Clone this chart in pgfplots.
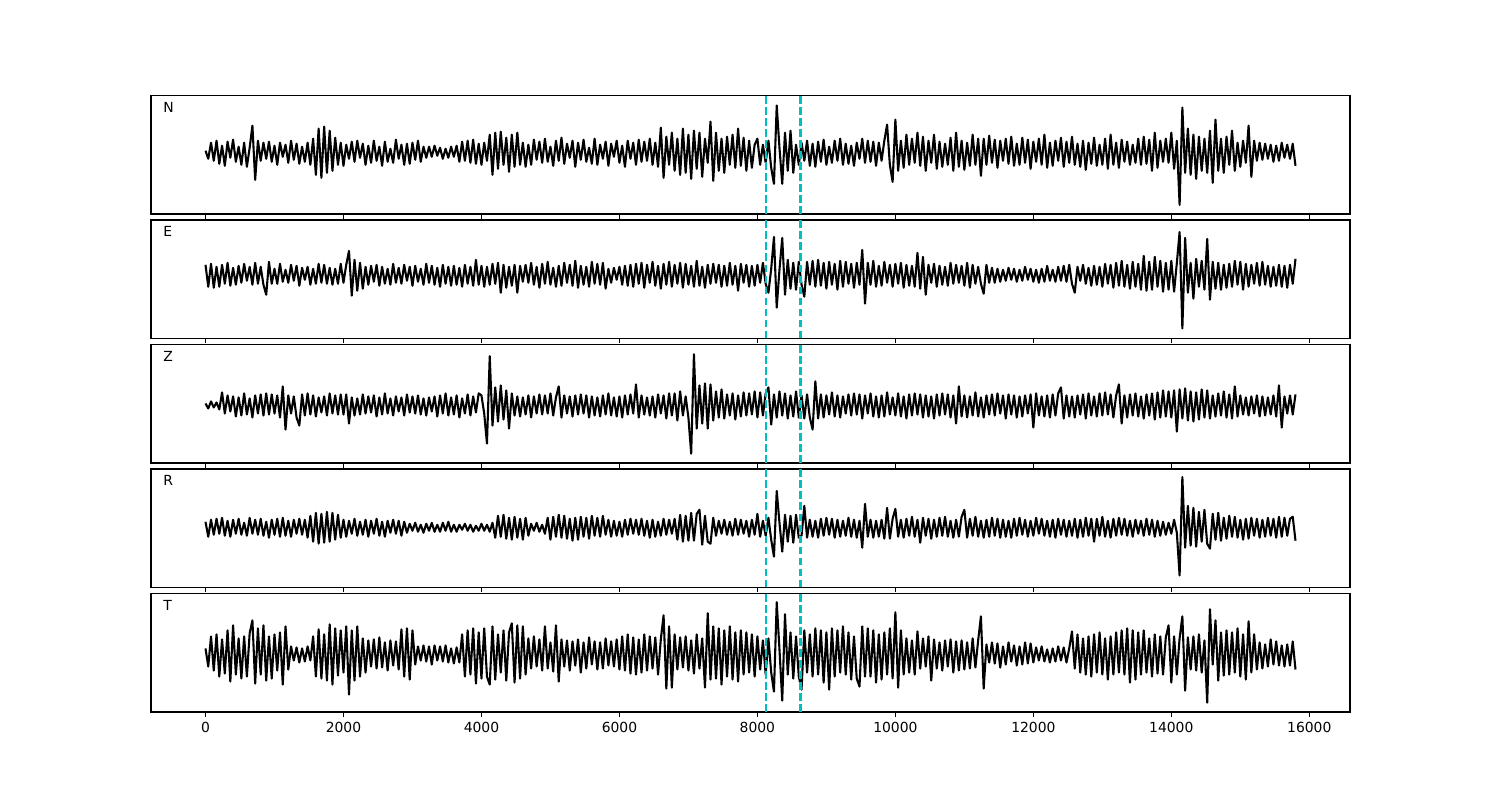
\documentclass[border=0pt]{standalone}
\usepackage{fontspec}
\setmainfont{DejaVu Sans}
\usepackage{pgfplots}
\usepackage{pgfplotstable}
\pgfplotsset{compat=1.18}
\definecolor{mplc}{rgb}{0,0.75,0.75}

% one sample every 40 time units, offsets from the trace baseline
\pgfplotstableread[row sep=\\, header=false]{
2\\ -6\\ 10\\ -8\\ 12\\ -11\\ 7\\ -13\\ 11\\ -5\\
13\\ -9\\ 6\\ -12\\ 10\\ -14\\ 5\\ 27\\ -27\\ 12\\
-8\\ 10\\ -6\\ 11\\ -9\\ 7\\ -12\\ 10\\ -4\\ 8\\
-10\\ 12\\ -7\\ 9\\ -11\\ 6\\ -9\\ 10\\ -12\\ 14\\
-22\\ 24\\ -25\\ 26\\ -20\\ 22\\ -18\\ 15\\ -12\\ 10\\
-13\\ 8\\ -6\\ 11\\ -9\\ 12\\ -5\\ 9\\ -12\\ 7\\
-10\\ 12\\ -8\\ 6\\ -13\\ 11\\ -9\\ 4\\ -10\\ 13\\
-6\\ 8\\ -12\\ 9\\ -11\\ 10\\ -7\\ 12\\ -9\\ 6\\
-5\\ 6\\ -4\\ 7\\ -3\\ 5\\ -6\\ 4\\ -5\\ 6\\
-4\\ 7\\ -9\\ 11\\ -8\\ 12\\ -10\\ 13\\ -11\\ 9\\
-12\\ 10\\ -8\\ 18\\ -22\\ 20\\ -16\\ 21\\ -12\\ 15\\
-19\\ 18\\ -14\\ 20\\ -12\\ 10\\ -14\\ 8\\ -12\\ 13\\
-7\\ 11\\ -10\\ 14\\ -9\\ 6\\ -13\\ 12\\ -8\\ 15\\
-11\\ 9\\ -5\\ 12\\ -14\\ 10\\ -7\\ 13\\ -9\\ 5\\
-11\\ 14\\ -12\\ 8\\ -6\\ 11\\ -13\\ 9\\ -4\\ 12\\
-10\\ 7\\ -14\\ 12\\ -6\\ 10\\ -12\\ 13\\ -9\\ 11\\
-8\\ 14\\ -12\\ 10\\ -14\\ 25\\ -25\\ 16\\ -12\\ 20\\
-18\\ 14\\ -22\\ 24\\ -20\\ 18\\ -26\\ 22\\ -16\\ 20\\
-24\\ 14\\ -10\\ 31\\ -28\\ 20\\ -18\\ 14\\ -20\\ 16\\
-12\\ 18\\ -15\\ 24\\ -13\\ 15\\ -18\\ 12\\ -15\\ 8\\
14\\ -12\\ 8\\ -10\\ 12\\ -15\\ -31\\ 47\\ 5\\ -31\\
20\\ -18\\ 22\\ -20\\ 8\\ -12\\ 10\\ -8\\ 12\\ -13\\
9\\ -14\\ 11\\ -9\\ 13\\ -12\\ 6\\ -10\\ 12\\ -8\\
14\\ -12\\ 9\\ -11\\ 7\\ -13\\ 10\\ -6\\ 14\\ -10\\
12\\ -9\\ 11\\ -13\\ 10\\ -8\\ 12\\ 28\\ -12\\ -29\\
33\\ -18\\ 12\\ -15\\ 18\\ -12\\ 14\\ -10\\ 20\\ -13\\
16\\ -18\\ 12\\ -10\\ 18\\ -16\\ 11\\ -14\\ 9\\ -12\\
15\\ -18\\ 20\\ -14\\ 12\\ -17\\ 10\\ -13\\ 18\\ -12\\
14\\ -23\\ 14\\ -12\\ 17\\ -10\\ 13\\ -15\\ 12\\ -8\\
14\\ -11\\ 16\\ -13\\ 9\\ -12\\ 15\\ -10\\ 13\\ -16\\
11\\ -9\\ 14\\ -12\\ 18\\ -15\\ 10\\ -13\\ 12\\ -8\\
15\\ -14\\ 11\\ -10\\ 16\\ -12\\ 9\\ -14\\ 12\\ -17\\
10\\ -11\\ 15\\ -13\\ 8\\ -12\\ 14\\ -16\\ 18\\ -12\\
10\\ -15\\ 13\\ -9\\ 11\\ -12\\ 8\\ -10\\ 14\\ -12\\
16\\ -11\\ 13\\ -18\\ 20\\ -15\\ 12\\ -9\\ 14\\ -10\\
20\\ -16\\ 12\\ -52\\ 45\\ -20\\ 24\\ -22\\ 18\\ -26\\
16\\ -18\\ 14\\ -20\\ 22\\ -30\\ 33\\ -18\\ 14\\ -20\\
16\\ -12\\ 22\\ -18\\ 10\\ -14\\ 12\\ -10\\ 27\\ -24\\
12\\ -8\\ 10\\ -7\\ 9\\ -6\\ 8\\ -9\\ 7\\ -8\\
10\\ -5\\ 8\\ -6\\ 9\\ -13\\
}\dataN

\pgfplotstableread[row sep=\\, header=false]{
10\\ -12\\ 11\\ -13\\ 8\\ -12\\ 10\\ -9\\ 12\\ -11\\
7\\ -10\\ 9\\ -8\\ 11\\ -6\\ 8\\ -10\\ 12\\ -9\\
8\\ -10\\ -20\\ 13\\ -9\\ 6\\ -9\\ 11\\ -7\\ 5\\
-8\\ 10\\ -6\\ 9\\ -11\\ 7\\ -5\\ 8\\ -10\\ 6\\
-9\\ 11\\ -8\\ 10\\ -9\\ 7\\ -10\\ 6\\ -9\\ 11\\
-8\\ 10\\ 24\\ -21\\ 15\\ -16\\ 12\\ -14\\ 8\\ -10\\
9\\ -7\\ 10\\ -11\\ 8\\ -9\\ 6\\ -10\\ 11\\ -8\\
7\\ -9\\ 10\\ -6\\ 8\\ -11\\ 9\\ -7\\ 6\\ -10\\
11\\ -8\\ 9\\ -10\\ 7\\ -12\\ 10\\ -9\\ 8\\ -11\\
9\\ -10\\ 7\\ -12\\ 10\\ -9\\ 8\\ -11\\ 15\\ -10\\
9\\ -12\\ 8\\ -10\\ 11\\ -9\\ 12\\ -18\\ 10\\ -13\\
8\\ -11\\ 10\\ -18\\ 9\\ -7\\ 10\\ -8\\ 12\\ -10\\
8\\ -13\\ 11\\ -9\\ 13\\ -10\\ 7\\ -12\\ 9\\ -11\\
12\\ -8\\ 10\\ -11\\ 14\\ -13\\ 9\\ -10\\ 8\\ -12\\
13\\ -9\\ 11\\ -10\\ 12\\ -14\\ 6\\ -8\\ 7\\ -5\\
8\\ -10\\ 9\\ -11\\ 10\\ -12\\ 11\\ -9\\ 12\\ -13\\
10\\ -8\\ 13\\ -11\\ 9\\ -14\\ 11\\ -10\\ 13\\ -12\\
10\\ -9\\ 12\\ -13\\ 11\\ -10\\ 9\\ -12\\ 14\\ -11\\
8\\ -13\\ 10\\ -9\\ 11\\ -8\\ 10\\ -12\\ 9\\ -11\\
12\\ -10\\ 9\\ -16\\ 11\\ -8\\ 10\\ -12\\ 9\\ -11\\
10\\ -8\\ 12\\ -9\\ -18\\ 6\\ 38\\ -33\\ 5\\ 37\\
-20\\ 15\\ -14\\ 12\\ -15\\ 13\\ -10\\ -22\\ 13\\ -10\\
14\\ -12\\ 15\\ -11\\ 12\\ -14\\ 13\\ -10\\ 11\\ -15\\
14\\ -12\\ 13\\ -9\\ 11\\ -13\\ 12\\ -10\\ 25\\ -29\\
12\\ -10\\ 14\\ -12\\ 9\\ -11\\ 13\\ -8\\ 10\\ -12\\
11\\ -9\\ 12\\ -13\\ 10\\ -11\\ 9\\ -12\\ 22\\ -14\\
18\\ -20\\ 10\\ -8\\ 11\\ -12\\ 9\\ -10\\ 8\\ -11\\
12\\ -9\\ 10\\ -8\\ 9\\ -11\\ 12\\ -13\\ 10\\ -9\\
8\\ -9\\ -19\\ 10\\ -8\\ 7\\ -8\\ 6\\ -7\\ 5\\
-6\\ 7\\ -5\\ 6\\ -7\\ 5\\ -6\\ 8\\ -5\\ 6\\
-7\\ 5\\ -8\\ 6\\ -7\\ 9\\ -6\\ 5\\ -7\\ 8\\
-6\\ 9\\ -7\\ 10\\ -9\\ -18\\ 8\\ -6\\ 10\\ -9\\
7\\ -11\\ 9\\ -10\\ 8\\ -12\\ 11\\ -9\\ 10\\ -13\\
12\\ -11\\ 14\\ -12\\ 10\\ -14\\ 13\\ -12\\ 11\\ -15\\
19\\ -16\\ 13\\ -15\\ 18\\ -12\\ 14\\ -17\\ 12\\ -15\\
14\\ -17\\ 12\\ 43\\ -54\\ 37\\ -18\\ 12\\ -24\\ 16\\
-12\\ 14\\ -15\\ 36\\ -25\\ 13\\ -14\\ 12\\ -15\\ 10\\
-13\\ 11\\ -12\\ 14\\ -10\\ 13\\ -15\\ 11\\ -12\\ 10\\
-9\\ 12\\ -11\\ 13\\ -10\\ 9\\ -12\\ 8\\ -11\\ 10\\
-12\\ 9\\ -13\\ 10\\ -9\\ 16\\
}\dataE

\pgfplotstableread[row sep=\\, header=false]{
2\\ -3\\ 4\\ -2\\ 3\\ -4\\ 13\\ -8\\ 10\\ -6\\
9\\ -11\\ 8\\ -10\\ 12\\ -9\\ 7\\ -12\\ 10\\ -8\\
11\\ -10\\ 12\\ -9\\ 11\\ -8\\ 10\\ -12\\ 19\\ -24\\
10\\ -8\\ 9\\ -12\\ -20\\ 11\\ -10\\ 12\\ -9\\ 10\\
-11\\ 8\\ -7\\ 9\\ -10\\ 12\\ -8\\ 10\\ -9\\ 11\\
-9\\ 11\\ -18\\ 8\\ -10\\ 7\\ -9\\ 11\\ -8\\ 9\\
-7\\ 10\\ -11\\ 8\\ -9\\ 12\\ -8\\ 7\\ -10\\ 9\\
-6\\ 8\\ -10\\ 11\\ -7\\ 9\\ -8\\ 10\\ -9\\ 7\\
-10\\ 8\\ -6\\ 9\\ -11\\ 10\\ -8\\ 12\\ -10\\ 8\\
-9\\ 10\\ -12\\ 7\\ -8\\ 11\\ -10\\ 9\\ -7\\ 12\\
10\\ -8\\ -38\\ 49\\ -20\\ 18\\ -16\\ 20\\ -14\\ 15\\
-23\\ 12\\ -10\\ 9\\ -11\\ 8\\ -9\\ 10\\ -12\\ 9\\
-8\\ 11\\ -9\\ 10\\ -8\\ 12\\ -10\\ 8\\ 19\\ -12\\
10\\ -8\\ 9\\ -11\\ 10\\ -9\\ 11\\ -8\\ 10\\ -12\\
9\\ -10\\ 8\\ -11\\ 10\\ -9\\ 12\\ -10\\ 8\\ -11\\
9\\ -12\\ 10\\ -9\\ 11\\ -8\\ 21\\ -12\\ 10\\ -9\\
8\\ -10\\ 9\\ -12\\ 11\\ -8\\ 10\\ -13\\ 12\\ -10\\
12\\ -15\\ 14\\ -10\\ 9\\ -12\\ -48\\ 51\\ -23\\ 20\\
-18\\ 22\\ -23\\ 21\\ -15\\ 14\\ -12\\ 16\\ -13\\ 11\\
-10\\ 12\\ -14\\ 10\\ -11\\ 13\\ -10\\ 12\\ -9\\ 14\\
-12\\ 13\\ -10\\ 12\\ 18\\ -19\\ 11\\ -12\\ 14\\ -10\\
12\\ -13\\ 10\\ -11\\ 14\\ -12\\ 10\\ -13\\ 11\\ -12\\
-24\\ 24\\ -13\\ 11\\ -12\\ 10\\ -9\\ 13\\ -11\\ 10\\
-12\\ 9\\ -8\\ 11\\ -10\\ 12\\ -9\\ 11\\ -13\\ 10\\
-8\\ 12\\ -11\\ 9\\ -12\\ 10\\ -11\\ 13\\ -9\\ 8\\
-10\\ 12\\ -11\\ 9\\ -13\\ 11\\ -10\\ 12\\ -9\\ 11\\
-12\\ 10\\ -11\\ 9\\ -13\\ 11\\ -10\\ 12\\ -9\\ 11\\
-12\\ 10\\ -18\\ 19\\ -11\\ 10\\ -12\\ 9\\ -10\\ 13\\
-11\\ 8\\ -12\\ 10\\ -9\\ 11\\ -10\\ 12\\ -8\\ 10\\
-13\\ 11\\ -9\\ 10\\ -12\\ 9\\ -11\\ 10\\ -8\\ 11\\
-22\\ 12\\ -10\\ 9\\ -11\\ 10\\ -12\\ 11\\ -10\\ 12\\
18\\ -13\\ 10\\ -11\\ 9\\ -12\\ 10\\ -9\\ 11\\ -13\\
12\\ -10\\ 9\\ -11\\ 12\\ -10\\ 13\\ -9\\ 11\\ -12\\
10\\ 21\\ -18\\ 10\\ -12\\ 11\\ -10\\ 12\\ -11\\ 9\\
-13\\ 11\\ -10\\ 12\\ -14\\ 13\\ -12\\ 15\\ -11\\ 14\\
-12\\ 15\\ -26\\ 16\\ -13\\ 17\\ -15\\ 14\\ -16\\ 13\\
-14\\ 16\\ -12\\ 15\\ -13\\ 10\\ -11\\ 12\\ -10\\ 14\\
-12\\ 11\\ -13\\ 19\\ -11\\ 10\\ -9\\ 8\\ -10\\ 9\\
-8\\ 10\\ -11\\ 9\\ -10\\ 8\\ -9\\ 10\\ -11\\ 20\\
-22\\ 9\\ -8\\ 10\\ -9\\ 11\\
}\dataZ

\pgfplotstableread[row sep=\\, header=false]{
6\\ -9\\ 8\\ -7\\ 9\\ -6\\ 10\\ -8\\ 7\\ -9\\
8\\ -6\\ 9\\ -7\\ 5\\ -8\\ 10\\ -6\\ 8\\ -7\\
9\\ -8\\ 6\\ -10\\ 8\\ -7\\ 9\\ -9\\ 10\\ -8\\
7\\ -9\\ 8\\ -6\\ 9\\ -7\\ 8\\ -10\\ 12\\ -14\\
15\\ -16\\ 14\\ -15\\ 16\\ -14\\ 15\\ -12\\ 13\\ -10\\
8\\ -9\\ 7\\ -6\\ 9\\ -8\\ 6\\ -7\\ 8\\ -9\\
7\\ -6\\ 9\\ -8\\ 6\\ -9\\ 7\\ -5\\ 8\\ -6\\
7\\ -8\\ 6\\ -5\\ 4\\ -3\\ 5\\ -4\\ 3\\ -5\\
4\\ -3\\ 5\\ -4\\ 3\\ -4\\ 5\\ -3\\ 6\\ -4\\
3\\ -4\\ 3\\ -2\\ 4\\ -3\\ 3\\ -4\\ 2\\ -3\\
4\\ -3\\ 3\\ -4\\ 5\\ -10\\ 12\\ -9\\ 13\\ -11\\
10\\ -12\\ 11\\ -10\\ 9\\ -12\\ 10\\ -8\\ 4\\ -3\\
5\\ -4\\ 3\\ -6\\ 10\\ -12\\ 11\\ -9\\ 13\\ -10\\
12\\ -11\\ 9\\ -13\\ 10\\ -12\\ 11\\ -9\\ 10\\ -11\\
12\\ -8\\ 10\\ -9\\ 12\\ -7\\ 8\\ -9\\ 7\\ -8\\
6\\ -9\\ 8\\ -7\\ 9\\ -6\\ 8\\ -7\\ 9\\ -8\\
7\\ -10\\ 8\\ -9\\ 6\\ -8\\ 9\\ -7\\ 8\\ -6\\
9\\ -12\\ 13\\ -14\\ 12\\ -13\\ 15\\ -13\\ 14\\ 18\\
-17\\ 12\\ -14\\ -16\\ 10\\ -8\\ 7\\ -6\\ 8\\ -7\\
6\\ -8\\ 9\\ -7\\ 8\\ -6\\ 7\\ -9\\ 8\\ -7\\
14\\ -9\\ 7\\ -8\\ 10\\ -12\\ -29\\ 37\\ 5\\ -24\\
13\\ -14\\ 12\\ -15\\ 13\\ -10\\ -8\\ 22\\ -10\\ 8\\
-9\\ 7\\ -10\\ 9\\ -8\\ 10\\ -7\\ 9\\ -10\\ 8\\
-9\\ 7\\ -8\\ 10\\ -9\\ 8\\ -10\\ 7\\ -20\\ 24\\
-9\\ 8\\ -10\\ 7\\ -9\\ 8\\ -11\\ 20\\ -11\\ 9\\
19\\ -9\\ 8\\ -10\\ 9\\ -8\\ 11\\ -9\\ 8\\ -15\\
10\\ -8\\ 9\\ -11\\ 8\\ -9\\ 10\\ -8\\ 11\\ -9\\
7\\ -10\\ 8\\ -9\\ 11\\ 18\\ -10\\ 9\\ -8\\ 11\\
-9\\ 7\\ -10\\ 8\\ -9\\ 10\\ -8\\ 9\\ -10\\ 8\\
-9\\ 7\\ -10\\ 9\\ -8\\ 10\\ -7\\ 8\\ -9\\ 7\\
-8\\ 10\\ -6\\ 9\\ -8\\ 7\\ -9\\ 8\\ -10\\ 9\\
-7\\ 8\\ -9\\ 7\\ -8\\ 9\\ -10\\ 8\\ -9\\ 10\\
-8\\ 9\\ -14\\ 9\\ -8\\ 11\\ -9\\ 7\\ -10\\ 9\\
-8\\ 10\\ -7\\ 9\\ -8\\ 7\\ -9\\ 8\\ -6\\ 7\\
-8\\ 9\\ -7\\ 8\\ -9\\ 7\\ -8\\ 6\\ -7\\ 5\\
-6\\ 8\\ -5\\ -48\\ 51\\ -20\\ 22\\ -18\\ 20\\ -19\\
16\\ -14\\ 18\\ -16\\ -21\\ 14\\ -12\\ 15\\ -13\\ 10\\
-11\\ 12\\ -9\\ 11\\ -10\\ 8\\ -12\\ 9\\ -11\\ 10\\
-8\\ 9\\ -10\\ 8\\ -9\\ 10\\ -8\\ 9\\ -10\\ 11\\
-9\\ 10\\ -8\\ 9\\ 11\\ -13\\
}\dataR

\pgfplotstableread[row sep=\\, header=false]{
6\\ -12\\ 18\\ -16\\ 20\\ -22\\ 15\\ -19\\ 24\\ -27\\
29\\ -20\\ 16\\ -24\\ 18\\ -22\\ 21\\ 34\\ -29\\ 26\\
-20\\ 29\\ -26\\ 18\\ -24\\ 20\\ -16\\ 22\\ -30\\ 28\\
-15\\ 8\\ -6\\ 7\\ -8\\ 6\\ -7\\ 8\\ -6\\ 18\\
-22\\ 25\\ -24\\ 20\\ -26\\ 30\\ -30\\ 26\\ -21\\ 24\\
-18\\ 28\\ -40\\ 24\\ -26\\ 28\\ -22\\ 16\\ -18\\ 14\\
-12\\ 15\\ -14\\ 17\\ -13\\ 12\\ -16\\ 14\\ -11\\ 13\\
-15\\ 25\\ -22\\ 26\\ -25\\ 24\\ -10\\ 8\\ -6\\ 9\\
-7\\ 8\\ -10\\ 9\\ -6\\ 8\\ -7\\ 9\\ -8\\ 6\\
-9\\ 7\\ -8\\ 20\\ -22\\ 24\\ -20\\ 26\\ -29\\ 22\\
-24\\ 26\\ -22\\ -30\\ 28\\ -25\\ 20\\ -18\\ 24\\ -26\\
22\\ 31\\ -28\\ 29\\ -24\\ 28\\ -20\\ 16\\ -14\\ 18\\
-12\\ 15\\ -16\\ 28\\ -14\\ 12\\ -17\\ 29\\ -27\\ 15\\
-12\\ 14\\ -16\\ 13\\ -11\\ 15\\ -18\\ 12\\ -14\\ 17\\
-10\\ 13\\ -15\\ 12\\ -14\\ 16\\ -11\\ 13\\ -12\\ 15\\
-15\\ 18\\ -16\\ 20\\ -19\\ 17\\ -20\\ 15\\ -18\\ 20\\
-16\\ 18\\ -14\\ 17\\ -20\\ 15\\ 39\\ -34\\ 28\\ -33\\
20\\ -15\\ 17\\ -13\\ 18\\ -16\\ 14\\ -19\\ 20\\ -14\\
16\\ -33\\ 41\\ -25\\ 28\\ -24\\ 26\\ -30\\ 24\\ -22\\
28\\ -25\\ 22\\ -27\\ 24\\ -20\\ 22\\ -18\\ 20\\ -22\\
18\\ -15\\ 14\\ -20\\ 16\\ -18\\ -37\\ 52\\ 5\\ -46\\
40\\ -20\\ 22\\ -24\\ 18\\ -22\\ -35\\ 24\\ -18\\ 20\\
-22\\ 26\\ -20\\ 24\\ -28\\ 22\\ -35\\ 26\\ -22\\ 24\\
-18\\ 28\\ -20\\ 22\\ -25\\ 18\\ -24\\ -32\\ 28\\ -22\\
26\\ -22\\ 24\\ -28\\ 20\\ -25\\ 22\\ -20\\ 26\\ -24\\
42\\ -33\\ 24\\ -20\\ 16\\ -18\\ 14\\ -20\\ 23\\ -14\\
16\\ -12\\ 18\\ -26\\ 15\\ -14\\ 12\\ -16\\ 14\\ -12\\
15\\ -18\\ 13\\ -16\\ 14\\ -15\\ 12\\ -14\\ 16\\ -13\\
14\\ 38\\ -34\\ 10\\ -8\\ 12\\ -9\\ 11\\ -13\\ 8\\
-10\\ 12\\ -7\\ 9\\ -11\\ 8\\ -10\\ 12\\ -9\\ 11\\
-8\\ 7\\ -6\\ 8\\ -7\\ 5\\ -8\\ 6\\ -7\\ 8\\
-6\\ 7\\ -8\\ 6\\ 23\\ -14\\ 20\\ -18\\ 16\\ -20\\
18\\ -22\\ 20\\ -18\\ 22\\ -20\\ 16\\ -25\\ 18\\ -20\\
22\\ -18\\ 24\\ -20\\ 26\\ -28\\ 24\\ -25\\ 22\\ -20\\
24\\ -18\\ 16\\ -22\\ 20\\ -19\\ 18\\ -20\\ 17\\ 29\\
-28\\ 18\\ -20\\ 16\\ 38\\ -36\\ 17\\ -15\\ 18\\ -16\\
20\\ -18\\ 14\\ -48\\ 45\\ -10\\ 34\\ -26\\ 22\\ -21\\
24\\ -20\\ 22\\ -18\\ 26\\ -22\\ 20\\ -25\\ 33\\ -18\\
20\\ -15\\ 12\\ -14\\ 10\\ -12\\ 15\\ -10\\ 13\\ -11\\
9\\ -12\\ 10\\ -11\\ 13\\ -15\\
}\dataT

\pgfplotsset{
  seis/.style={
    scale only axis, width=863.28pt, height=85.32pt,
    xmin=-790, xmax=16590,
    ytick=\empty,
    xtick={0,2000,4000,6000,8000,10000,12000,14000,16000},
    scaled x ticks=false,
    xtick pos=left, tick align=outside,
    major tick length=3.5pt,
    every tick/.style={black, line width=0.8pt},
    axis line style={line width=0.8pt},
    xticklabel style={font=\fontsize{10}{12}\selectfont, /pgf/number format/1000 sep={}},
    /pgf/number format/assume math mode=true,
    anchor=south west,
  },
  trace/.style={black, line width=1.5pt, line join=round, no markers},
  pick/.style={mplc, line width=1.5pt, dash pattern=on 5.55pt off 2.4pt, no markers},
}

\newcommand{\panel}[6]{%
  \begin{axis}[seis, at={(108.72pt,#1)}, ymin=#2, ymax=#3, #6]
    \addplot[trace] table[x expr=\coordindex*40, y index=0] {#4};
    \addplot[pick] coordinates {(8125,#2) (8125,#3)};
    \addplot[pick] coordinates {(8625,#2) (8625,#3)};
    \node[anchor=base west, font=\fontsize{10}{12}\selectfont, inner sep=0pt] at (rel axis cs:0.01,0.86) {#5};
  \end{axis}%
}

\begin{document}
\begin{tikzpicture}
\path[use as bounding box] (0,0) rectangle (1080pt,576pt);
\panel{421.92pt}{-61}{57}{\dataN}{N}{xticklabels={}}
\panel{332.28pt}{-64}{55}{\dataE}{E}{xticklabels={}}
\panel{242.64pt}{-57.3}{60.7}{\dataZ}{Z}{xticklabels={}}
\panel{153.0pt}{-60}{59}{\dataR}{R}{xticklabels={}}
\panel{63.36pt}{-57.3}{60.7}{\dataT}{T}{}
\end{tikzpicture}
\end{document}
